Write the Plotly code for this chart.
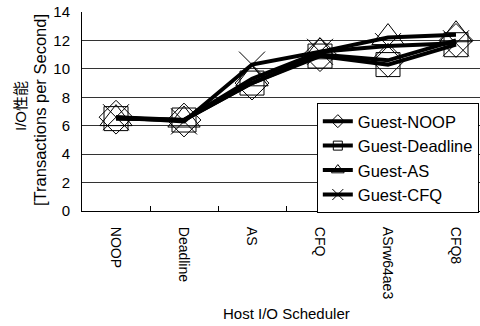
import plotly.graph_objects as go

categories = ["NOOP", "Deadline", "AS", "CFQ", "ASrw64ae3", "CFQ8"]
guest_noop = [6.6, 6.4, 9.0, 11.0, 10.6, 12.0]
guest_deadline = [6.5, 6.4, 9.0, 10.9, 10.3, 11.7]
guest_as = [6.5, 6.4, 9.3, 11.2, 12.2, 12.4]
guest_cfq = [6.6, 6.3, 10.3, 11.2, 11.6, 11.8]
series_names = ["Guest-NOOP", "Guest-Deadline", "Guest-AS", "Guest-CFQ"]
y_ticks = [0, 2, 4, 6, 8, 10, 12, 14]

FONT = "Liberation Sans, Arial, sans-serif"
series = [guest_noop, guest_deadline, guest_as, guest_cfq]
symbols = ["diamond-open", "square-open", "triangle-up-open", "x-thin-open"]
sizes = [26, 24, 28, 26]
legend_sizes = [10, 9, 11, 11]

fig = go.Figure()
for i, (name, vals) in enumerate(zip(series_names, series)):
    fig.add_trace(go.Scatter(
        x=categories, y=vals, name=name, mode="lines+markers",
        showlegend=False,
        line=dict(color="black", width=4),
        marker=dict(symbol=symbols[i], size=sizes[i], color="black",
                    line=dict(color="black", width=1)),
    ))
# legend entries (smaller markers, as in the reference legend)
for i, name in enumerate(series_names):
    fig.add_trace(go.Scatter(
        x=[None], y=[None], name=name, mode="lines+markers",
        legendgroup=name, showlegend=True,
        line=dict(color="black", width=4),
        marker=dict(symbol=symbols[i], size=legend_sizes[i], color="black",
                    line=dict(color="black", width=1)),
    ))

fig.update_layout(
    width=480, height=326,
    margin=dict(l=82, r=0, t=12, b=115),
    paper_bgcolor="white", plot_bgcolor="white",
    font=dict(family=FONT, size=14, color="black"),
    showlegend=True,
    legend=dict(
        x=0.59, y=0.543, xanchor="left", yanchor="top",
        bgcolor="white", bordercolor="black", borderwidth=1,
        font=dict(family=FONT, size=16.5, color="black"),
        itemwidth=30,
        tracegroupgap=0, traceorder="grouped",
    ),
    xaxis=dict(
        type="category", range=[-0.5, 5.353],
        tickangle=90, tickson="boundaries", ticks="inside", ticklen=5,
        tickcolor="black", showline=True, linecolor="black", linewidth=1,
        showgrid=False, tickfont=dict(family=FONT, size=14),
        ticklabelstandoff=12,
    ),
    yaxis=dict(
        range=[0, 14], tickvals=y_ticks, showline=True, linecolor="black",
        linewidth=1, showgrid=True, gridcolor="#333333", gridwidth=1,
        ticks="", tickfont=dict(family=FONT, size=15), zeroline=False,
        ticklabelstandoff=8,
    ),
    annotations=[
        dict(text="Host I/O Scheduler", xref="paper", yref="paper",
             x=(286 - 82) / 398, y=-(313 - 211) / 199, showarrow=False,
             xanchor="center", yanchor="middle",
             font=dict(family=FONT, size=15)),
        dict(text="I/O性能", xref="paper", yref="paper",
             x=-(82 - 20) / 398, y=(211 - 106) / 199, textangle=-90,
             showarrow=False, xanchor="center", yanchor="middle",
             font=dict(family="Liberation Sans, Noto Sans CJK JP", size=15)),
        dict(text="[Transactions per Second]", xref="paper", yref="paper",
             x=-(82 - 40) / 398, y=(211 - 110) / 199, textangle=-90,
             showarrow=False, xanchor="center", yanchor="middle",
             font=dict(family=FONT, size=16.5)),
    ],
)

fig.write_html("out.html")
